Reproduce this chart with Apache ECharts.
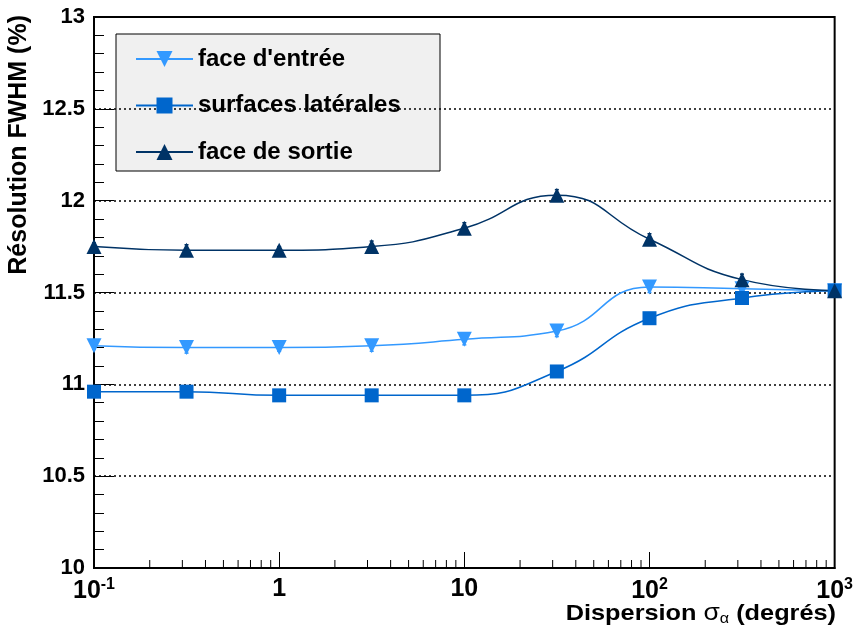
<!DOCTYPE html>
<html>
<head>
<meta charset="utf-8">
<script src="https://cdn.jsdelivr.net/npm/echarts@6/dist/echarts.min.js"></script>
<style>
  html, body { margin: 0; padding: 0; background: #fff; }
  #chart { width: 856px; height: 629px; }
</style>
</head>
<body>
<div id="chart"></div>
<script>
// dispersion angles (degrees), half-decade steps
const dispersion = [0.1, 0.316, 1, 3.16, 10, 31.6, 100, 316, 1000];

const faceEntree   = [11.21, 11.20, 11.20, 11.21, 11.245, 11.29, 11.53, 11.52, 11.51];
const surfacesLat  = [10.96, 10.96, 10.94, 10.94, 10.94, 11.07, 11.36, 11.47, 11.51];
const faceSortie   = [11.75, 11.73, 11.73, 11.75, 11.85, 12.03, 11.79, 11.57, 11.51];

const errEntree  = [0.02, 0.03, 0.02, 0.03, 0.03, 0.03, 0.03, 0.02, 0.02];
const errLat     = [0.02, 0.03, 0.02, 0.03, 0.02, 0.02, 0.03, 0.03, 0.02];
const errSortie  = [0.02, 0.03, 0.02, 0.03, 0.03, 0.03, 0.03, 0.03, 0.02];

const legendNames = ["face d'entrée", 'surfaces latérales', 'face de sortie'];
const colors = ['#3399ff', '#0066cc', '#003366'];

const xMinorTicks = [];
[0.1, 1, 10, 100].forEach(d => {
  for (let k = 2; k <= 9; k++) xMinorTicks.push(d * k);
});

const font = "'Liberation Sans', Arial, sans-serif";

function pairs(ys, errs) {
  return dispersion.map((x, i) => errs ? [x, ys[i], errs[i]] : [x, ys[i]]);
}

function errorSeries(ys, errs, color) {
  return {
    type: 'custom',
    silent: true,
    z: 1,
    data: pairs(ys, errs),
    renderItem: function (params, api) {
      const x = api.value(0), y = api.value(1), e = api.value(2);
      const lo = api.coord([x, y - e]);
      const hi = api.coord([x, y + e]);
      const style = { stroke: color, lineWidth: 1.5 };
      return {
        type: 'group',
        children: [
          { type: 'line', shape: { x1: lo[0], y1: lo[1], x2: hi[0], y2: hi[1] }, style: style },
          { type: 'line', shape: { x1: lo[0] - 2, y1: lo[1], x2: lo[0] + 2, y2: lo[1] }, style: style },
          { type: 'line', shape: { x1: hi[0] - 2, y1: hi[1], x2: hi[0] + 2, y2: hi[1] }, style: style }
        ]
      };
    }
  };
}

function lineSeries(name, ys, color, symbol, rotate, size) {
  return {
    name: name,
    type: 'line',
    data: pairs(ys),
    smooth: 0.5,
    symbol: symbol,
    symbolRotate: rotate,
    symbolSize: size,
    z: 3,
    lineStyle: { color: color, width: 1.5 },
    itemStyle: { color: color }
  };
}

const chart = echarts.init(document.getElementById('chart'));

chart.setOption({
  animation: false,
  backgroundColor: '#fff',
  grid: {
    left: 94, right: 19, top: 17, bottom: 61,
    show: true, borderColor: '#000', borderWidth: 2, backgroundColor: 'transparent'
  },
  xAxis: {
    type: 'log',
    logBase: 10,
    min: 0.1,
    max: 1000,
    axisLine: { lineStyle: { color: '#000', width: 2 } },
    axisTick: { inside: true, length: 16, lineStyle: { color: '#000', width: 1 } },
    splitLine: { show: false },
    axisLabel: {
      margin: 9,
      fontFamily: font, fontWeight: 'bold', fontSize: 25, color: '#000',
      formatter: function (v) {
        const e = Math.round(Math.log10(v));
        if (e === 0) return '1';
        if (e === 1) return '10';
        return '10{sup|' + e + '}';
      },
      rich: {
        sup: { fontFamily: font, fontWeight: 'bold', fontSize: 16, color: '#000', verticalAlign: 'top', padding: [0, 0, 12, 0] }
      }
    }
  },
  yAxis: {
    type: 'value',
    min: 10,
    max: 13,
    interval: 0.5,
    axisLine: { show: true, lineStyle: { color: '#000', width: 2 } },
    axisTick: { inside: true, length: 20, lineStyle: { color: '#000', width: 1 } },
    minorTick: { show: true, splitNumber: 5, length: 10, lineStyle: { color: '#000', width: 1 } },
    splitLine: { show: true, lineStyle: { color: '#000', width: 1.5, type: [2, 3] } },
    axisLabel: {
      margin: 9,
      fontFamily: font, fontWeight: 'bold', fontSize: 22, color: '#000',
      formatter: function (v) { return String(+v.toFixed(1)); }
    }
  },
  legend: {
    data: legendNames,
    orient: 'vertical',
    left: 130,
    top: 42,
    itemWidth: 57,
    itemHeight: 20,
    itemGap: 22.5,
    textStyle: { fontFamily: font, fontWeight: 'bold', fontSize: 24, color: '#000', lineHeight: 24 }
  },
  graphic: [
    {
      type: 'rect',
      z: -1,
      shape: { x: 116, y: 34, width: 324, height: 137 },
      style: { fill: '#f0f0f0', stroke: '#000', lineWidth: 1 }
    },
    {
      type: 'text',
      x: 7,
      y: 15,
      rotation: Math.PI / 2,
      style: {
        text: 'Résolution FWHM (%)',
        align: 'right',
        verticalAlign: 'top',
        fontFamily: font, fontWeight: 'bold', fontSize: 25, fill: '#000'
      }
    },
    {
      type: 'text',
      x: 836,
      y: 626,
      scaleX: 1.15,
      originX: 0,
      originY: 0,
      style: {
        text: 'Dispersion {s|σ}{sub|α} (degrés)',
        align: 'right',
        verticalAlign: 'bottom',
        fontFamily: font, fontWeight: 'bold', fontSize: 22, fill: '#000',
        rich: {
          s: { fontFamily: font, fontSize: 23, fill: '#000', fontWeight: 'normal' },
          sub: { fontFamily: font, fontSize: 14, fill: '#000', verticalAlign: 'bottom', padding: [10, 0, 0, 0] }
        }
      }
    }
  ],
  series: [
    {
      type: 'custom',
      silent: true,
      z: 2,
      data: xMinorTicks.map(x => [x, 10]),
      renderItem: function (params, api) {
        const p = api.coord([api.value(0), api.value(1)]);
        return {
          type: 'line',
          shape: { x1: p[0], y1: p[1], x2: p[0], y2: p[1] - 8 },
          style: { stroke: '#000', lineWidth: 1 }
        };
      }
    },
    errorSeries(faceEntree, errEntree, colors[0]),
    errorSeries(surfacesLat, errLat, colors[1]),
    errorSeries(faceSortie, errSortie, colors[2]),
    lineSeries(legendNames[0], faceEntree, colors[0], 'triangle', 180, 15),
    lineSeries(legendNames[1], surfacesLat, colors[1], 'rect', 0, 14),
    lineSeries(legendNames[2], faceSortie, colors[2], 'triangle', 0, 15)
  ]
});
</script>
</body>
</html>
